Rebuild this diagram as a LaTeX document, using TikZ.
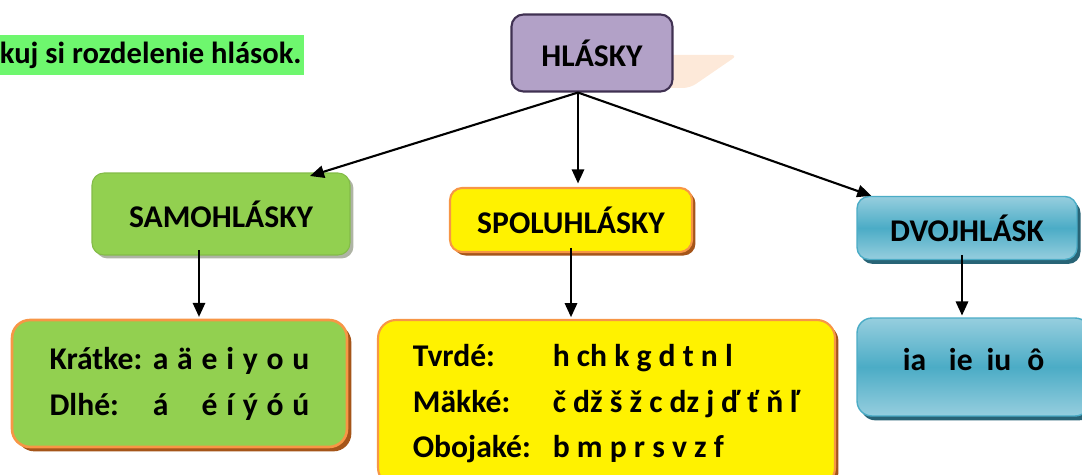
\documentclass[tikz,border=0pt]{standalone}
\usepackage{fontspec}
\setmainfont{Carlito}
\usetikzlibrary{arrows.meta,shadows}

\definecolor{zvyraznenie}{RGB}{110,247,110}
\definecolor{fialova}{RGB}{178,161,199}
\definecolor{fialovaokraj}{RGB}{64,49,82}
\definecolor{bezova}{RGB}{253,233,217}
\definecolor{zelena}{RGB}{146,208,80}
\definecolor{oranzova}{RGB}{247,150,70}
\definecolor{hneda}{RGB}{165,85,25}
\definecolor{siva}{RGB}{175,180,165}
\definecolor{modra}{RGB}{75,172,198}
\definecolor{modrasvetla}{RGB}{150,206,222}
\definecolor{modratmava}{RGB}{40,100,118}

\begin{document}
\begin{tikzpicture}[x=0.02cm,y=-0.02cm,
    every node/.style={font=\fontsize{18}{26}\selectfont\bfseries, inner sep=0pt},
    sipka/.style={-{Triangle[length=8pt,width=7pt]}, line width=1.2pt}
  ]
  \tikzset{
    uloha/.style={fill=zvyraznenie, minimum height=0.8cm, inner xsep=1.5pt,
      font=\fontsize{17.4}{26}\selectfont\bfseries},
    fialovy/.style={fill=fialova, draw=fialovaokraj, line width=1.2pt, rounded corners=0.24cm},
    zeleny/.style={fill=zelena, draw=zelena!90!black, line width=0.6pt, rounded corners=0.24cm,
      drop shadow={shadow xshift=2pt, shadow yshift=-2pt, fill=siva, opacity=1}},
    zlty/.style={fill=yellow, draw=oranzova, line width=1.2pt, rounded corners=0.24cm,
      drop shadow={shadow xshift=2pt, shadow yshift=-2pt, fill=hneda, opacity=1}},
    zelenyokraj/.style={fill=zelena, draw=oranzova, line width=1.5pt, rounded corners=0.36cm,
      drop shadow={shadow xshift=2.5pt, shadow yshift=-2.5pt, fill=hneda, opacity=1}},
    modry/.style={top color=modrasvetla, bottom color=modrasvetla, middle color=modra,
      draw=modra, line width=0.8pt, rounded corners=0.24cm,
      drop shadow={shadow xshift=2pt, shadow yshift=-2.5pt, fill=modratmava, opacity=1}}
  }
  \useasboundingbox (0,0) rectangle (1082,475);

  % zadanie
  \node[uloha, anchor=west] (zadanie) at (-3,55) {kuj si rozdelenie hlások.};

  % hlavny box s tienom
  \fill[bezova, rounded corners=4pt] (660,55) -- (738,55) -- (690,88) -- (660,88) -- cycle;
  \node[fialovy, minimum width=3.22cm, minimum height=1.54cm] (hlasky) at (592,53) {HLÁSKY};

  % druhy hlasok
  \node[zeleny, minimum width=5.16cm, minimum height=1.64cm] (samohlasky) at (221,214) {SAMOHLÁSKY};
  \node[zlty, minimum width=4.84cm, minimum height=1.28cm] (spoluhlasky) at (571,220) {SPOLUHLÁSKY};
  \node[modry, minimum width=4.4cm, minimum height=1.26cm] (dvojhlasky) at (967,228) {DVOJHLÁSK};

  % prehlad pismen
  \node[zelenyokraj, minimum width=6.7cm, minimum height=2.54cm] (samotab) at (179.5,383.5) {%
    \begin{tabular}{@{}l@{\hspace{6pt}}c*{6}{@{\hspace{5pt}}c}@{}}
      Krátke: & a & ä & e & i & y & o & u\\
      Dlhé:   & á &   & é & í & ý & ó & ú
    \end{tabular}};
  \node[zlty, rounded corners=0.36cm, minimum width=9.14cm, minimum height=3.32cm] (spolutab) at (606.5,403) {%
    \begin{tabular}{@{}p{2.8cm}@{}l@{}}
      Tvrdé:   & h ch k g d t n l\\
      Mäkké:   & č dž š ž c dz j ď ť ň ľ\\
      Obojaké: & b m p r s v z f
    \end{tabular}};
  \node[modry, rounded corners=0.3cm, minimum width=4.66cm, minimum height=1.96cm, text depth=0.3cm] (dvojtab) at (973.5,367) {ia\hspace{13pt}ie\hspace{8pt}iu\hspace{9pt}ô};

  % sipky
  \coordinate (zdroj) at ([xshift=-0.28cm]hlasky.south);
  \draw[sipka] (zdroj) -- ([xshift=1.78cm,yshift=-2pt]samohlasky.north);
  \draw[sipka, shorten >=2pt] (zdroj) -- (zdroj |- spoluhlasky.north);
  \draw[sipka] (zdroj) -- ([xshift=0.3cm]dvojhlasky.north west);

  \draw[sipka, shorten >=1pt] ([xshift=-0.44cm,yshift=3pt]samohlasky.south) -- ([xshift=-0.44cm]samohlasky.south |- samotab.north);
  \draw[sipka, shorten >=1pt] ([yshift=3pt]spoluhlasky.south) -- (spoluhlasky.south |- spolutab.north);
  \draw[sipka, shorten >=1pt] ([xshift=-0.1cm,yshift=3pt]dvojhlasky.south) -- ([xshift=-0.1cm]dvojhlasky.south |- dvojtab.north);
\end{tikzpicture}
\end{document}
